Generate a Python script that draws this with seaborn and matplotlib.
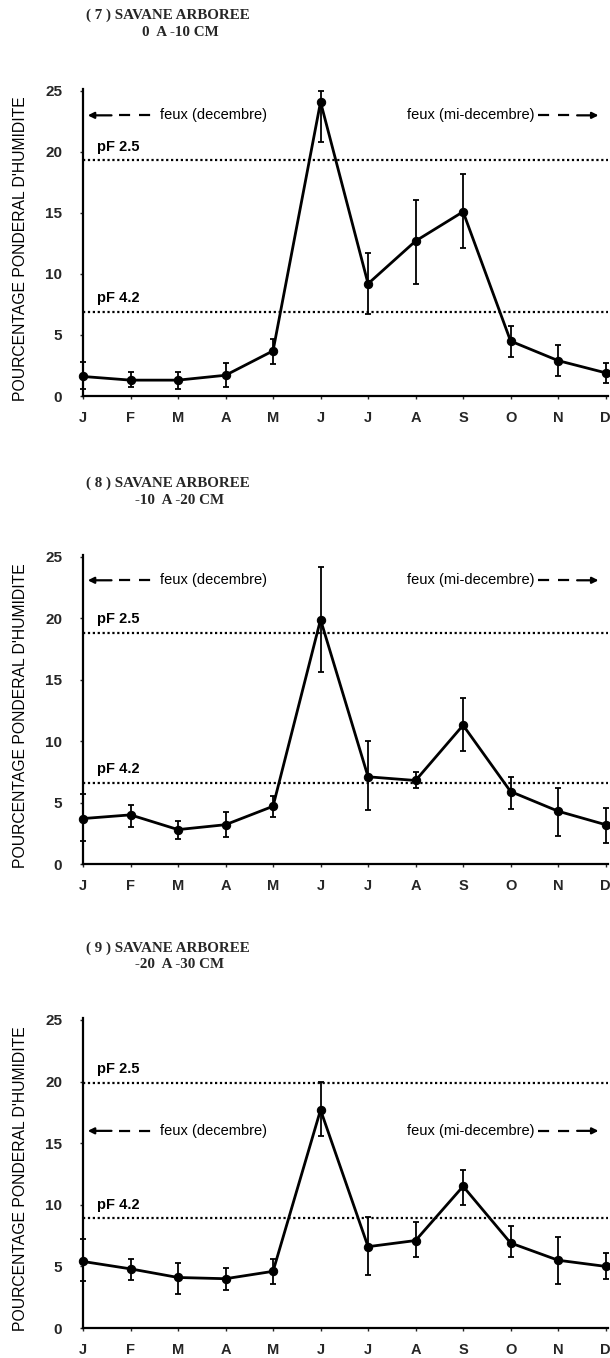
import numpy as np
import pandas as pd
import matplotlib
matplotlib.use("Agg")
import matplotlib.pyplot as plt
import seaborn as sns

# Months (January .. December)
months = ["J", "F", "M", "A", "M", "J", "J", "A", "S", "O", "N", "D"]
y_ticks = [0, 5, 10, 15, 20, 25]

# (7) 0 a -10 cm : mean, lower and upper bound of the bars
hum_7 = [1.6, 1.3, 1.3, 1.7, 3.7, 24.1, 9.2, 12.7, 15.1, 4.5, 2.9, 1.9]
low_7 = [0.6, 0.7, 0.6, 0.7, 2.6, 20.8, 6.7, 9.2, 12.1, 3.2, 1.6, 1.1]
high_7 = [2.8, 2.0, 2.0, 2.7, 4.7, 25.0, 11.7, 16.1, 18.2, 5.7, 4.2, 2.7]
pf_7 = [19.3, 6.9]

# (8) -10 a -20 cm
hum_8 = [3.7, 4.0, 2.8, 3.2, 4.7, 19.9, 7.1, 6.8, 11.3, 5.9, 4.3, 3.2]
low_8 = [1.9, 3.0, 2.0, 2.2, 3.8, 15.6, 4.4, 6.2, 9.2, 4.5, 2.3, 1.7]
high_8 = [5.7, 4.8, 3.5, 4.2, 5.5, 24.2, 10.0, 7.5, 13.5, 7.1, 6.2, 4.6]
pf_8 = [18.8, 6.6]

# (9) -20 a -30 cm
hum_9 = [5.4, 4.8, 4.1, 4.0, 4.6, 17.7, 6.6, 7.1, 11.5, 6.9, 5.5, 5.0]
low_9 = [3.8, 3.9, 2.8, 3.1, 3.6, 15.6, 4.3, 5.8, 10.0, 5.8, 3.6, 4.0]
high_9 = [7.2, 5.6, 5.3, 4.9, 5.6, 20.0, 9.0, 8.6, 12.8, 8.3, 7.4, 6.1]
pf_9 = [19.9, 8.9]

titles = [("( 7 ) SAVANE ARBOREE", "0  A -10 CM"),
          ("( 8 ) SAVANE ARBOREE", "-10  A -20 CM"),
          ("( 9 ) SAVANE ARBOREE", "-20  A -30 CM")]
ylabel = "POURCENTAGE PONDERAL D'HUMIDITE"
fire_left = "feux (decembre)"
fire_right = "feux (mi-decembre)"
pf_names = ["pF 2.5", "pF 4.2"]

W, H = 610, 1358
sns.set_theme(style="white")
plt.rcParams["font.family"] = ["Liberation Sans", "DejaVu Sans"]

fig = plt.figure(figsize=(W / 100, H / 100), dpi=100)
fig.patch.set_facecolor("white")

panels = [
    (hum_7, low_7, high_7, pf_7, 396, 88.5, 23.0, 15, 33),
    (hum_8, low_8, high_8, pf_8, 864, 554.5, 23.1, 483, 500),
    (hum_9, low_9, high_9, pf_9, 1328, 1017.5, 16.0, 948, 965),
]

x_left, x_right = 83, 608
serif = ["Liberation Serif", "DejaVu Serif"]

for k, (hum, low, high, pf, ybot, ytop, leg_y, t1y, t2y) in enumerate(panels):
    ax = fig.add_axes([x_left / W, (H - ybot) / H,
                       (x_right - x_left) / W, (ybot - ytop) / H])
    df = pd.DataFrame({"mois": np.arange(12), "humidite": hum})
    hum_a = np.array(hum)
    yerr = np.vstack([hum_a - np.array(low), np.array(high) - hum_a])

    ax.errorbar(df["mois"], df["humidite"], yerr=yerr, fmt="none",
                ecolor="black", elinewidth=1.3, capsize=2.5, capthick=1.3,
                clip_on=False, zorder=3)
    sns.lineplot(data=df, x="mois", y="humidite", ax=ax, color="black",
                 linewidth=2.0, marker="o", markersize=6,
                 markeredgecolor="black", markerfacecolor="black",
                 clip_on=False, zorder=4)

    # reference water contents
    for val, name in zip(pf, pf_names):
        ax.axhline(val, color="black", linestyle=(0, (1.0, 1.2)),
                   linewidth=1.6, zorder=2)
        ax.text(0.3, val + 0.55, name, fontsize=10.5, fontweight="semibold",
                ha="left", va="bottom", color="black")

    # fire periods
    ax.annotate("", xy=(0.1, leg_y), xytext=(0.6, leg_y),
                arrowprops=dict(arrowstyle="-|>", color="black", lw=1.6,
                                mutation_scale=9, shrinkA=0, shrinkB=0))
    ax.plot([0.75, 1.5], [leg_y, leg_y], color="black", lw=1.6,
            dashes=(5, 4))
    ax.text(1.62, leg_y, fire_left, fontsize=10.5, ha="left",
            va="center", color="black")
    ax.text(9.5, leg_y, fire_right, fontsize=10.5, ha="right",
            va="center", color="black")
    ax.plot([9.57, 10.3], [leg_y, leg_y], color="black", lw=1.6,
            dashes=(5, 4))
    ax.annotate("", xy=(10.85, leg_y), xytext=(10.4, leg_y),
                arrowprops=dict(arrowstyle="-|>", color="black", lw=1.6,
                                mutation_scale=9, shrinkA=0, shrinkB=0))

    ax.set_xlim(0, 11.05)
    ax.set_ylim(0, 25.2)
    ax.set_xticks(np.arange(12))
    ax.set_xticklabels(months, fontsize=10.5, fontweight="bold")
    ax.set_yticks(y_ticks)
    ax.set_yticklabels([str(v) for v in y_ticks], fontsize=11,
                       fontweight="bold")
    ax.tick_params(axis="x", length=2, width=1, pad=9, direction="out",
                   bottom=True)
    ax.tick_params(axis="y", length=2, width=1, pad=13, direction="out",
                   left=True)
    ax.set_xlabel("")
    ax.set_ylabel("")
    for side in ["top", "right"]:
        ax.spines[side].set_visible(False)
    for side in ["left", "bottom"]:
        ax.spines[side].set_color("black")
        ax.spines[side].set_linewidth(1.6)
    ax.grid(False)
    ax.set_facecolor("white")

    # titles and axis caption
    fig.text(168 / W, 1 - t1y / H, titles[k][0], fontsize=10.8,
             fontweight="bold", family=serif, ha="center", va="center")
    fig.text(180 / W, 1 - t2y / H, titles[k][1], fontsize=10.8,
             fontweight="bold", family=serif, ha="center", va="center")
    fig.text(21 / W, 1 - ((ybot + ytop) / 2 + 6) / H, ylabel,
             fontsize=11.3, rotation=90, ha="center", va="center",
             color="black")

fig.savefig("out.png", dpi=100, facecolor="white")
